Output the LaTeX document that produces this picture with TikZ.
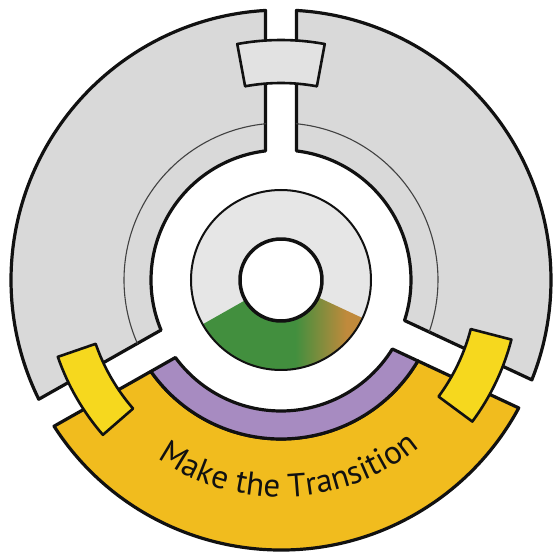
\documentclass[tikz,border=0pt]{standalone}
\usepackage{fontspec}
\usetikzlibrary{decorations.text}
\newfontfamily\lblfont{PT Sans}
\definecolor{secgrey}{HTML}{D9D9D9}
\definecolor{ringgrey}{HTML}{E6E6E6}
\definecolor{tabgrey}{HTML}{E2E2E2}
\definecolor{bandorange}{HTML}{F1BC1E}
\definecolor{bandpurple}{HTML}{A78BC1}
\definecolor{tabyellow}{HTML}{F6D81E}
\definecolor{grn}{HTML}{428F3E}
\definecolor{brn}{HTML}{C08A3C}
\definecolor{ink}{HTML}{111111}
\pgfdeclarehorizontalshading{gbr}{100bp}{color(0bp)=(grn); color(54bp)=(grn); color(70bp)=(brn); color(100bp)=(brn)}
\newcommand\spokehw{15.5}
% annular sector between two spokes with parallel (offset) edges
\newcommand\annsec[5][]{%
  \path[#1] ({#2+asin(\spokehw/#5)}:#5pt)
    arc[start angle={#2+asin(\spokehw/#5)}, end angle={#3-asin(\spokehw/#5)}, radius=#5pt]
    -- ({#3-asin(\spokehw/#4)}:#4pt)
    arc[start angle={#3-asin(\spokehw/#4)}, end angle={#2+asin(\spokehw/#4)}, radius=#4pt]
    -- cycle;}
% thin arc between two spokes
\newcommand\divarc[4][]{%
  \draw[#1] ({#2+asin(\spokehw/#4)}:#4pt)
    arc[start angle={#2+asin(\spokehw/#4)}, end angle={#3-asin(\spokehw/#4)}, radius=#4pt];}
% radial tab
\newcommand\tabsec[5][]{%
  \path[#1] ({#2-#3}:#4pt) arc[start angle={#2-#3}, end angle={#2+#3}, radius=#4pt]
    -- ({#2+#3}:#5pt) arc[start angle={#2+#3}, end angle={#2-#3}, radius=#5pt] -- cycle;}
\tikzset{
  sector/.style={draw=ink, line width=3.2pt},
  divider/.style={draw=ink!80, line width=1.1pt},
  tabbox/.style={draw=ink, line width=2.6pt},
}
\begin{document}
\begin{tikzpicture}[line join=round, line cap=round]
\useasboundingbox[fill=white] (-281pt,-279pt) rectangle (274pt,280pt);
% outer grey sectors
\annsec[sector, fill=secgrey]{90}{209.5}{130}{270}
\annsec[sector, fill=secgrey]{-25}{90}{130}{270}
\divarc[divider]{90}{209.5}{157}
\divarc[divider]{-25}{90}{157}
% bottom sector
\annsec[sector, fill=bandorange]{209.5}{335}{159}{270}
\annsec[sector, fill=bandpurple]{209.5}{335}{131}{159}
% inner annulus
\fill[ringgrey, even odd rule] (0,0) circle[radius=90pt] (0,0) circle[radius=41pt];
\shade[shading=gbr] (209.5:90pt) arc[start angle=209.5, end angle=335, radius=90pt]
  -- (335:41pt) arc[start angle=335, end angle=209.5, radius=41pt] -- cycle;
\draw[ink, line width=2pt] (0,0) circle[radius=90pt];
\draw[ink, line width=3.5pt] (0,0) circle[radius=41pt];
% tabs
\tabsec[tabbox, fill=tabgrey]{90}{10.5}{197}{240}
\tabsec[tabbox, fill=tabyellow]{210}{11}{196}{236}
\tabsec[tabbox, fill=tabyellow]{-25.5}{11}{196}{238}
% label
\path[decorate, decoration={text along path, text align=center,
  text={|\lblfont\fontsize{33}{33}\selectfont\color{ink}|Make the Transition}}]
  (230:217pt) arc[start angle=230, end angle=315, radius=217pt];
\end{tikzpicture}
\end{document}
